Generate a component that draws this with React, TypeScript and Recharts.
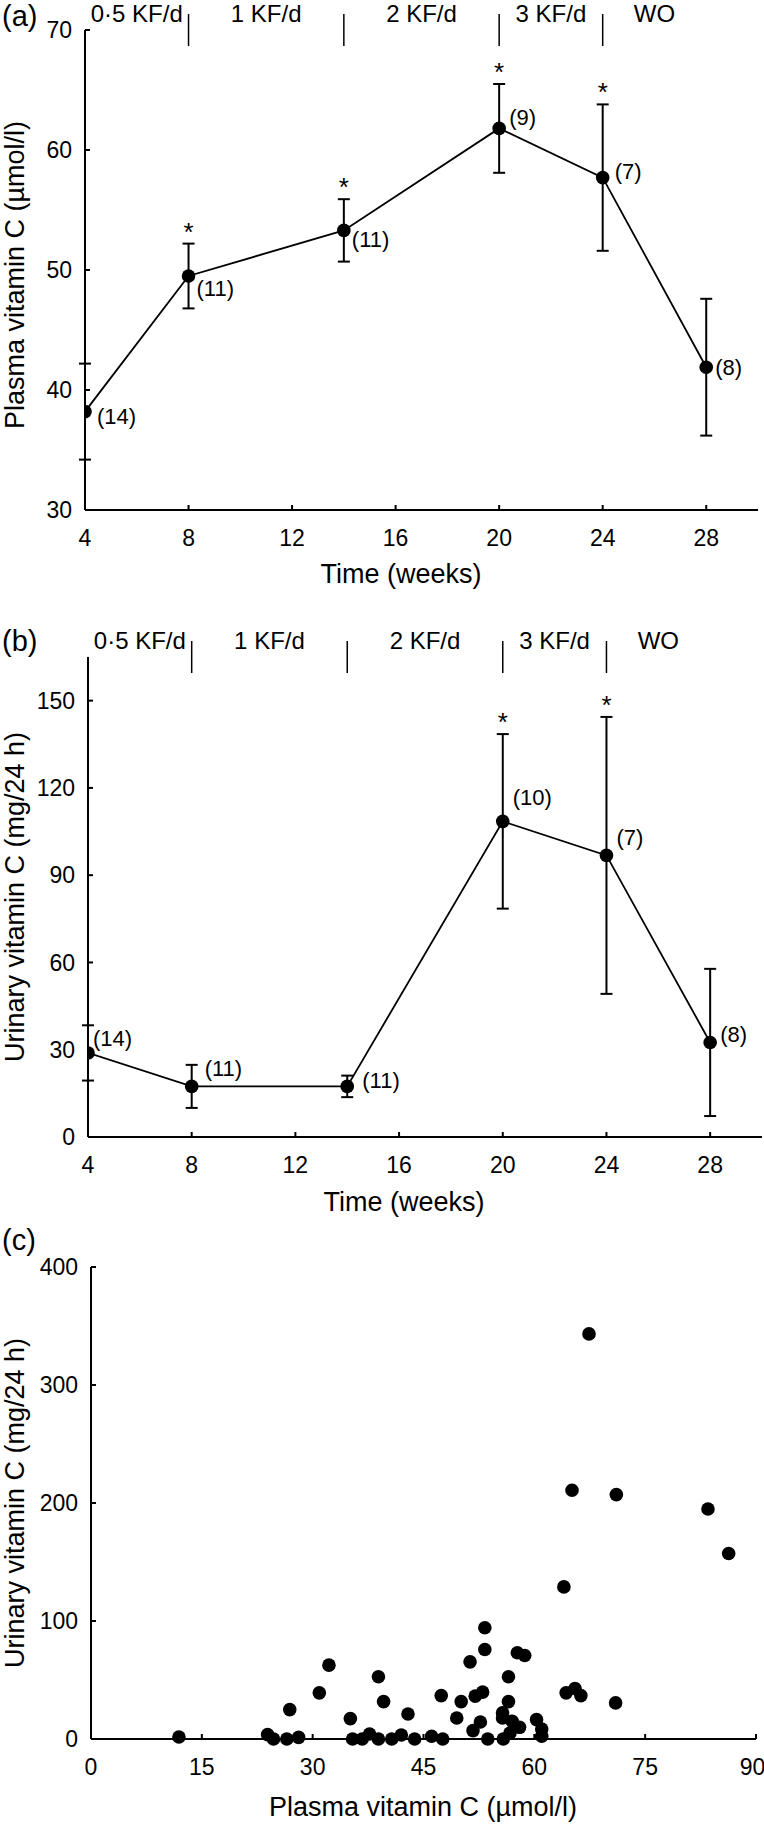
import React from "react"
import {
  ComposedChart,
  ScatterChart,
  Line,
  Scatter,
  XAxis,
  YAxis,
  ErrorBar,
  ReferenceDot,
} from "recharts"

const FONT = "'Liberation Sans', Arial, Helvetica, sans-serif"

// time course (weeks)
const weeks = [4, 8, 14, 20, 24, 28]
const weekTicks = [4, 8, 12, 16, 20, 24, 28]

// kiwifruit phases
const phaseNames = ["0·5 KF/d", "1 KF/d", "2 KF/d", "3 KF/d", "WO"]
const phaseBounds = [4, 8, 14, 20, 24, 28]

// (a) plasma vitamin C (µmol/l)
const plasmaMean = [38.2, 49.5, 53.3, 61.8, 57.7, 41.9]
const plasmaSd = [4.0, 2.7, 2.6, 3.7, 6.1, 5.7]
const plasmaN = [14, 11, 11, 9, 7, 8]
const plasmaSig = [false, true, true, true, true, false]

// (b) urinary vitamin C (mg/24 h)
const urinaryMean = [28.9, 17.4, 17.4, 108.5, 96.8, 32.5]
const urinarySd = [9.5, 7.4, 3.7, 30.0, 47.6, 25.3]
const urinaryN = [14, 11, 11, 10, 7, 8]
const urinarySig = [false, false, false, true, true, false]

// (c) individual samples
const scatterPlasma = [
  11.9, 23.9, 24.7, 26.5, 26.9, 28.1, 30.9, 32.2, 35.1, 35.4, 36.7, 37.7, 38.9, 38.9,
  39.6, 40.7, 42.0, 42.9, 43.8, 46.1, 47.4, 47.6, 49.5, 50.1, 51.3, 51.7, 52.0, 52.7,
  53.0, 53.3, 53.3, 53.7, 55.7, 55.8, 55.7, 56.5, 56.5, 56.7, 57.0, 57.7, 58.0, 58.7,
  60.3, 61.0, 61.0, 64.0, 64.3, 65.5, 66.3, 71.0, 83.5, 86.3, 67.4, 65.1, 71.1,
]
const scatterUrinary = [
  1.7, 3.7, 0, 0, 24.9, 1.4, 39.1, 62.6, 17.3, 0, 0, 4.2, 52.7, 0,
  31.7, 0, 3.4, 21.2, 0, 2.3, 36.8, 0, 17.8, 31.7, 65.4, 7.1, 36.3, 14.4,
  39.7, 94.3, 75.9, 0, 22.1, 0, 17.8, 52.7, 31.7, 5.1, 15.0, 73.1, 9.9, 70.8,
  16.4, 8.5, 2.3, 128.9, 39.1, 42.8, 36.8, 30.6, 194.9, 157.2, 343.3, 210.8, 207.1,
]

// where the (n) labels sit relative to each point
const nOffsetA = [[12, 5], [8, 12], [8, 9], [10, -11], [12, -6], [9, 0]]
const nOffsetB = [[5, -14], [13, -18], [15, -6], [10, -24], [10, -18], [10, -8]]

const tickStyle = { fill: "#000", fontSize: 23, fontFamily: FONT }
const axisStroke = { stroke: "#000", strokeWidth: 2 }

type PanelProps = {
  mean: number[]
  sd: number[]
  n: number[]
  sig: boolean[]
  offsets: number[][]
  yDomain: number[]
  yTicks: number[]
  top: number
  height: number
  marginTop: number
  yWidth: number
  right: number
  xHeight: number
}

function TimePanel({
  mean, sd, n, sig, offsets, yDomain, yTicks,
  top, height, marginTop, yWidth, right, xHeight,
}: PanelProps) {
  const rows = weeks.map((w, i) => ({
    week: w,
    mean: mean[i],
    sd: sd[i],
    hi: mean[i] + sd[i],
    n: n[i],
    sig: sig[i],
  }))
  const yMax = yDomain[1]

  const dotShape = (p: any) => {
    const [dx, dy] = offsets[p.index]
    return (
      <g key={`pt-${p.index}`}>
        <circle cx={p.cx} cy={p.cy} r={6.8} fill="#000" />
        <text
          x={p.cx + dx}
          y={p.cy + dy}
          dominantBaseline="central"
          fontSize={22}
          fontFamily={FONT}
          fill="#000"
        >
          ({p.payload.n})
        </text>
      </g>
    )
  }

  const starShape = (p: any) =>
    p.payload.sig ? (
      <text
        key={`st-${p.index}`}
        x={p.cx}
        y={p.cy - 3}
        textAnchor="middle"
        fontSize={26}
        fontFamily={FONT}
        fill="#000"
      >
        *
      </text>
    ) : (
      <g key={`st-${p.index}`} />
    )

  return (
    <div style={{ position: "absolute", left: 0, top }}>
      <ComposedChart
        width={764}
        height={height}
        data={rows}
        margin={{ top: marginTop, right, bottom: 0, left: 0 }}
      >
        <XAxis
          dataKey="week"
          type="number"
          domain={[4, 30]}
          ticks={weekTicks}
          allowDataOverflow
          height={xHeight}
          tickSize={-5}
          tickMargin={25}
          tick={tickStyle}
          tickLine={axisStroke}
          axisLine={axisStroke}
        />
        <YAxis
          type="number"
          domain={yDomain}
          ticks={yTicks}
          allowDataOverflow
          width={yWidth}
          tickSize={-5}
          tickMargin={18}
          tick={tickStyle}
          tickLine={axisStroke}
          axisLine={axisStroke}
        />

        {phaseNames.map((name, i) => (
          <ReferenceDot
            key={`ph-${i}`}
            x={(phaseBounds[i] + phaseBounds[i + 1]) / 2}
            y={yMax}
            shape={(p: any) => (
              <text
                x={p.cx}
                y={p.cy - 8}
                textAnchor="middle"
                fontSize={24}
                fontFamily={FONT}
                fill="#000"
              >
                {name}
              </text>
            )}
          />
        ))}
        {phaseBounds.slice(1, -1).map((b) => (
          <ReferenceDot
            key={`div-${b}`}
            x={b}
            y={yMax}
            shape={(p: any) => (
              <line
                x1={p.cx}
                x2={p.cx}
                y1={p.cy - 16}
                y2={p.cy + 16}
                stroke="#000"
                strokeWidth={1.5}
              />
            )}
          />
        ))}

        <Line
          dataKey="hi"
          stroke="none"
          dot={starShape}
          activeDot={false}
          isAnimationActive={false}
        />
        <Line
          dataKey="mean"
          stroke="#000"
          strokeWidth={1.8}
          dot={dotShape}
          activeDot={false}
          isAnimationActive={false}
        >
          <ErrorBar
            dataKey="sd"
            direction="y"
            width={6}
            stroke="#000"
            strokeWidth={2}
          />
        </Line>
      </ComposedChart>
    </div>
  )
}

function ScatterPanel() {
  const points = scatterPlasma.map((x, i) => ({ x, y: scatterUrinary[i] }))
  return (
    <div style={{ position: "absolute", left: 0, top: 1220 }}>
      <ScatterChart
        width={764}
        height={606}
        margin={{ top: 47, right: 8, bottom: 0, left: 0 }}
      >
        <XAxis
          dataKey="x"
          type="number"
          domain={[0, 90]}
          ticks={[0, 15, 30, 45, 60, 75, 90]}
          height={87}
          tickSize={-5}
          tickMargin={25}
          tick={tickStyle}
          tickLine={axisStroke}
          axisLine={axisStroke}
        />
        <YAxis
          dataKey="y"
          type="number"
          domain={[0, 400]}
          ticks={[0, 100, 200, 300, 400]}
          width={91}
          tickSize={-5}
          tickMargin={18}
          tick={tickStyle}
          tickLine={axisStroke}
          axisLine={axisStroke}
        />
        <Scatter
          data={points}
          isAnimationActive={false}
          shape={(p: any) => <circle cx={p.cx} cy={p.cy} r={6.8} fill="#000" />}
        />
      </ScatterChart>
    </div>
  )
}

const YTitle = ({ x, y, text }: { x: number; y: number; text: string }) => (
  <text
    x={x}
    y={y}
    transform={`rotate(-90 ${x} ${y})`}
    textAnchor="middle"
    dominantBaseline="central"
    fontSize={27}
    fontFamily={FONT}
    fill="#000"
  >
    {text}
  </text>
)

const XTitle = ({ x, y, text }: { x: number; y: number; text: string }) => (
  <text x={x} y={y} textAnchor="middle" fontSize={27} fontFamily={FONT} fill="#000">
    {text}
  </text>
)

export default function App() {
  return (
    <div
      style={{
        position: "absolute",
        left: 0,
        top: 0,
        width: 764,
        height: 1826,
        background: "#fff",
        fontFamily: FONT,
      }}
    >
      <TimePanel
        mean={plasmaMean}
        sd={plasmaSd}
        n={plasmaN}
        sig={plasmaSig}
        offsets={nOffsetA}
        yDomain={[30, 70]}
        yTicks={[30, 40, 50, 60, 70]}
        top={0}
        height={600}
        marginTop={30}
        yWidth={85}
        right={6}
        xHeight={90}
      />
      <TimePanel
        mean={urinaryMean}
        sd={urinarySd}
        n={urinaryN}
        sig={urinarySig}
        offsets={nOffsetB}
        yDomain={[0, 165]}
        yTicks={[0, 30, 60, 90, 120, 150]}
        top={600}
        height={620}
        marginTop={57}
        yWidth={88}
        right={2}
        xHeight={83}
      />
      <ScatterPanel />
      <svg
        width={764}
        height={1826}
        style={{ position: "absolute", left: 0, top: 0, pointerEvents: "none" }}
      >
        <text x={2} y={26} fontSize={29} fontFamily={FONT} fill="#000">(a)</text>
        <text x={2} y={651} fontSize={29} fontFamily={FONT} fill="#000">(b)</text>
        <text x={2} y={1250} fontSize={29} fontFamily={FONT} fill="#000">(c)</text>

        <YTitle x={15} y={275} text="Plasma vitamin C (µmol/l)" />
        <YTitle x={15} y={897} text="Urinary vitamin C (mg/24 h)" />
        <YTitle x={15} y={1503} text="Urinary vitamin C (mg/24 h)" />

        <XTitle x={401} y={583} text="Time (weeks)" />
        <XTitle x={404} y={1211} text="Time (weeks)" />
        <XTitle x={423} y={1816} text="Plasma vitamin C (µmol/l)" />
      </svg>
    </div>
  )
}
